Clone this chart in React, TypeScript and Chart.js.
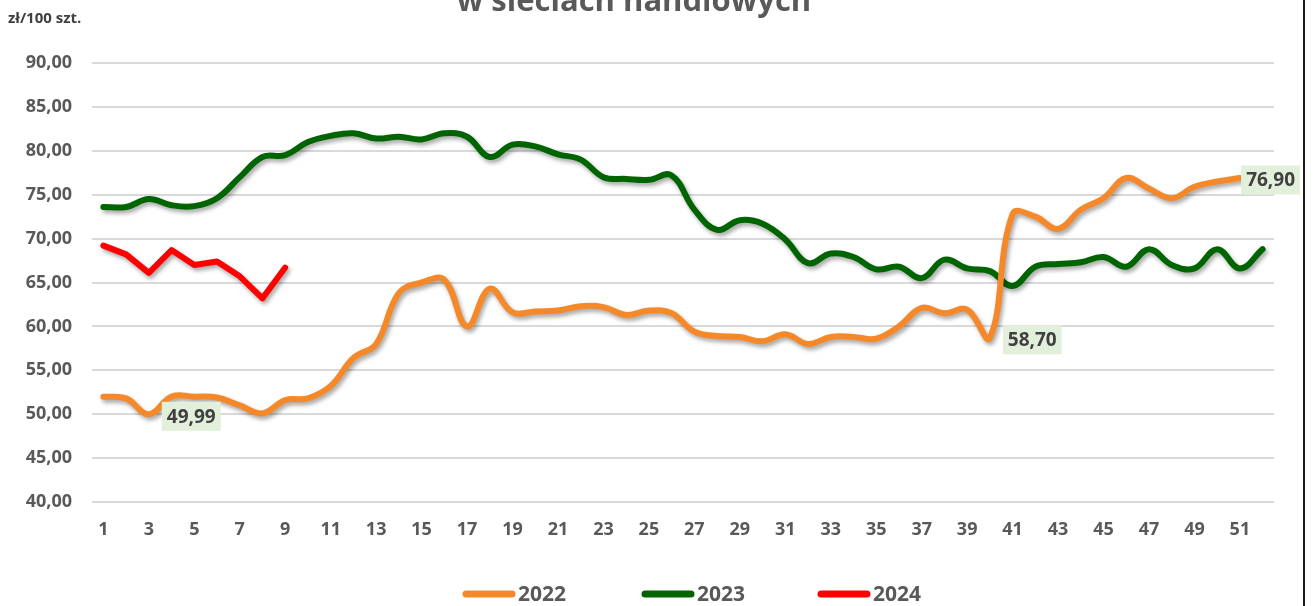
import React, { useEffect, useRef } from "react";
import { Chart, registerables } from "chart.js";

Chart.register(...registerables);

const WEEKS = [
  "1", "2", "3", "4", "5", "6", "7", "8", "9", "10",
  "11", "12", "13", "14", "15", "16", "17", "18", "19", "20",
  "21", "22", "23", "24", "25", "26", "27", "28", "29", "30",
  "31", "32", "33", "34", "35", "36", "37", "38", "39", "40",
  "41", "42", "43", "44", "45", "46", "47", "48", "49", "50",
  "51", "52",
];

const Y2022 = [
  52.0, 51.8, 49.99, 52.0, 52.0, 51.9, 51.0, 50.1, 51.6, 51.8,
  53.2, 56.4, 58.0, 63.8, 65.0, 65.3, 60.0, 64.3, 61.6, 61.7,
  61.8, 62.3, 62.2, 61.3, 61.8, 61.5, 59.4, 58.9, 58.8, 58.3,
  59.1, 58.0, 58.8, 58.8, 58.6, 60.0, 62.1, 61.5, 61.9, 58.7,
  72.8, 72.5, 71.1, 73.3, 74.6, 76.9, 75.7, 74.6, 75.9, 76.5,
  76.9,
];

const Y2023 = [
  73.6, 73.6, 74.5, 73.8, 73.7, 74.6, 77.0, 79.3, 79.5, 81.0,
  81.7, 82.0, 81.4, 81.6, 81.3, 82.0, 81.6, 79.3, 80.7, 80.5,
  79.6, 79.0, 77.0, 76.8, 76.7, 77.2, 73.3, 71.0, 72.1, 71.7,
  69.9, 67.2, 68.3, 67.9, 66.5, 66.8, 65.5, 67.6, 66.6, 66.3,
  64.6, 66.8, 67.1, 67.3, 67.9, 66.8, 68.8, 67.0, 66.6, 68.8,
  66.6, 68.8,
];

const Y2024 = [69.2, 68.2, 66.1, 68.7, 67.0, 67.4, 65.7, 63.2, 66.7];

const SERIES_NAMES = ["2022", "2023", "2024"];
const SERIES_COLORS = ["#F5892A", "#006400", "#FF0000"];

// labelled points: [dataset index, point index]
const LABELLED = [
  [0, 2],
  [0, 39],
  [0, 50],
];

const TITLE = "w sieciach handlowych";
const UNIT = "zł/100 szt.";

const fmt = (v: number) => v.toFixed(2).replace(".", ",");

const shadowPlugin = {
  id: "shadow",
  beforeDatasetDraw(chart: any) {
    const ctx = chart.ctx;
    ctx.save();
    ctx.shadowColor = "rgba(0,0,0,0.35)";
    ctx.shadowBlur = 4;
    ctx.shadowOffsetX = 2;
    ctx.shadowOffsetY = 3;
  },
  afterDatasetDraw(chart: any) {
    chart.ctx.restore();
  },
};

const overlayPlugin = {
  id: "overlay",
  afterDraw(chart: any) {
    const ctx = chart.ctx;
    const W = chart.width;
    const H = chart.height;
    ctx.save();

    // title (clipped at top)
    ctx.fillStyle = "#595959";
    ctx.font = "bold 31px 'Open Sans'";
    ctx.textAlign = "center";
    ctx.textBaseline = "alphabetic";
    ctx.fillText(TITLE, 634, 11);

    // unit
    ctx.fillStyle = "#404040";
    ctx.font = "bold 15px 'Open Sans'";
    ctx.textAlign = "left";
    ctx.textBaseline = "middle";
    ctx.fillText(UNIT, 8, 19);

    // data labels
    ctx.font = "bold 19px 'Open Sans'";
    LABELLED.forEach(([d, i]) => {
      const meta = chart.getDatasetMeta(d);
      const pt = meta.data[i];
      if (!pt) return;
      const v = chart.data.datasets[d].data[i] as number;
      const txt = fmt(v);
      const tw = ctx.measureText(txt).width;
      const bw = tw + 10;
      const bh = 29;
      let bx = pt.x + 13;
      if (bx + bw > 1300) bx = 1300 - bw;
      const by = pt.y - bh / 2 + 2;
      ctx.fillStyle = "#E2EFDA";
      ctx.fillRect(bx, by, bw, bh);
      ctx.fillStyle = "#404040";
      ctx.textAlign = "left";
      ctx.textBaseline = "middle";
      ctx.fillText(txt, bx + 5, by + bh / 2 + 1);
    });

    // legend
    const legendX = [463, 642, 818];
    const ly = 594;
    ctx.font = "bold 21px 'Open Sans'";
    SERIES_NAMES.forEach((name, k) => {
      const x0 = legendX[k];
      ctx.strokeStyle = SERIES_COLORS[k];
      ctx.lineWidth = 7;
      ctx.lineCap = "round";
      ctx.beginPath();
      ctx.moveTo(x0 + 3, ly);
      ctx.lineTo(x0 + 49, ly);
      ctx.stroke();
      ctx.fillStyle = "#595959";
      ctx.textAlign = "left";
      ctx.textBaseline = "middle";
      ctx.fillText(name, x0 + 55, ly + 1);
    });

    // right border
    ctx.strokeStyle = "#1a1a1a";
    ctx.lineWidth = 2;
    ctx.lineCap = "butt";
    ctx.beginPath();
    ctx.moveTo(1304, 0);
    ctx.lineTo(1304, H);
    ctx.stroke();
    ctx.fillStyle = "#ffffff";
    ctx.fillRect(1305, 0, W - 1305, H);

    ctx.restore();
  },
};

export default function App() {
  const ref = useRef<HTMLCanvasElement | null>(null);

  useEffect(() => {
    if (!ref.current) return;
    const datasets = [Y2022, Y2023, Y2024].map((d, k) => ({
      label: SERIES_NAMES[k],
      data: d,
      borderColor: SERIES_COLORS[k],
      backgroundColor: SERIES_COLORS[k],
      borderWidth: 6,
      pointRadius: 0,
      tension: k === 2 ? 0 : 0.4,
      borderCapStyle: "round" as const,
      borderJoinStyle: "round" as const,
      fill: false,
    }));
    const chart = new Chart(ref.current, {
      type: "line",
      data: { labels: WEEKS, datasets },
      options: {
        animation: false,
        responsive: false,
        maintainAspectRatio: false,
        layout: { padding: { left: 0, right: 41, top: 63, bottom: 0 } },
        plugins: {
          legend: { display: false },
          tooltip: { enabled: false },
          title: { display: false },
        },
        scales: {
          x: {
            offset: true,
            grid: { display: false, drawTicks: false },
            border: { display: false },
            ticks: {
              autoSkip: false,
              maxRotation: 0,
              padding: 17,
              color: "#595959",
              font: { family: "'Open Sans'", size: 18, weight: "bold" },
              callback: (_v: any, idx: number) => (idx % 2 === 0 ? WEEKS[idx] : ""),
            },
            afterFit: (s: any) => {
              s.height = 104;
            },
          },
          y: {
            min: 40,
            max: 90,
            grid: { color: "#d9d9d9", lineWidth: 2, drawTicks: false },
            border: { display: false },
            ticks: {
              stepSize: 5,
              padding: 20,
              color: "#595959",
              font: { family: "'Open Sans'", size: 18, weight: "bold" },
              callback: (v: any) => fmt(Number(v)),
            },
            afterFit: (s: any) => {
              s.width = 92;
            },
          },
        },
      },
      plugins: [shadowPlugin, overlayPlugin],
    });
    return () => chart.destroy();
  }, []);

  return (
    <div style={{ position: "fixed", left: 0, top: 0, width: 1315, height: 606, background: "#fff" }}>
      <canvas ref={ref} width={1315} height={606} style={{ display: "block" }} />
    </div>
  );
}
